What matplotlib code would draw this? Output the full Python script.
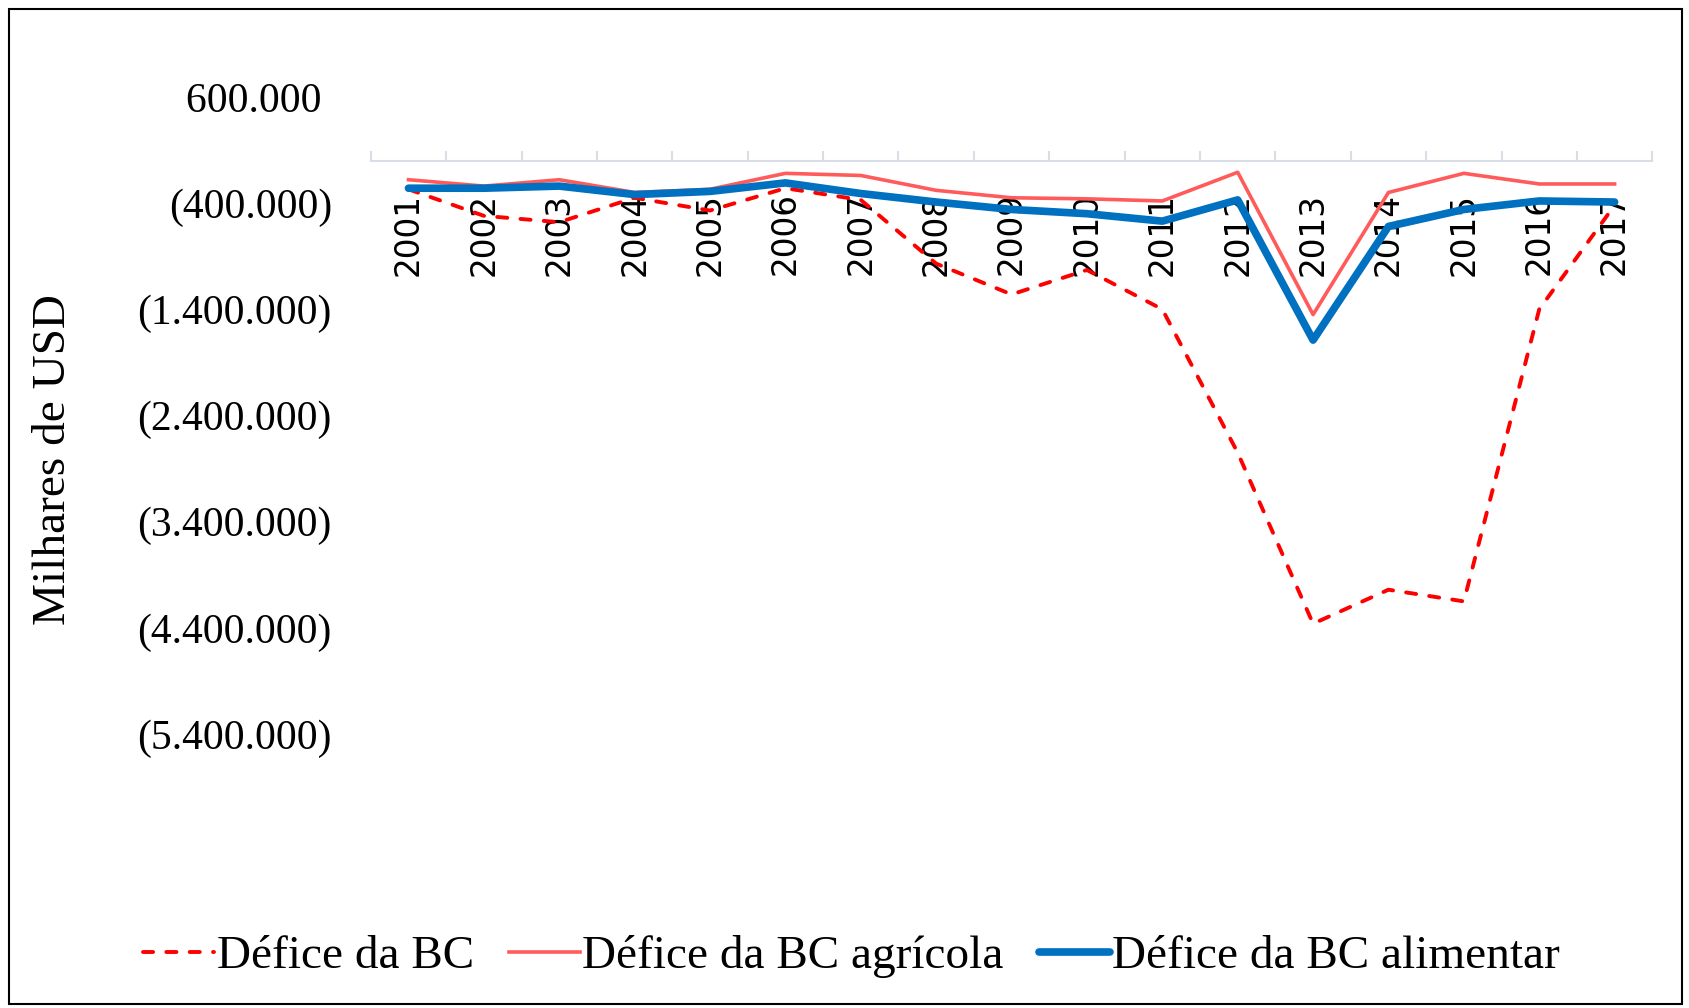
#!/usr/bin/env python3
"""Défice da balança comercial, 2001-2017 (milhares de USD)."""
import matplotlib
matplotlib.use('Agg')
import matplotlib.pyplot as plt
from matplotlib.patches import Rectangle
from matplotlib.ticker import FixedLocator, FuncFormatter

YEARS = [str(y) for y in range(2001, 2018)]

# values in thousands of USD
DEFICE_BC = [-270000, -520000, -580000, -350000, -470000, -260000, -370000,
             -970000, -1260000, -1030000, -1400000, -2750000, -4360000,
             -4040000, -4150000, -1400000, -420000]
DEFICE_AGRICOLA = [-180000, -240000, -180000, -300000, -270000, -120000, -140000,
                   -280000, -350000, -360000, -380000, -110000, -1450000,
                   -300000, -120000, -220000, -220000]
DEFICE_ALIMENTAR = [-260000, -260000, -240000, -320000, -290000, -210000, -310000,
                    -390000, -460000, -500000, -570000, -370000, -1690000,
                    -620000, -460000, -380000, -390000]

Y_TICKS = [600000, -400000, -1400000, -2400000, -3400000, -4400000, -5400000]

SERIF = ['Liberation Serif', 'DejaVu Serif']
AXIS_GRAY = '#D9DEE6'


def fmt_thousands(val, _pos):
    """Excel style: dots as thousands separator, negatives in brackets."""
    s = '{:,.0f}'.format(abs(val)).replace(',', '.')
    if val < 0:
        return '(' + s + ')'
    return s + ' '


fig = plt.figure(figsize=(16.9, 10.08), dpi=100)
ax = fig.add_axes([0.2194, 0.1663, 0.7583, 0.7376])

x = list(range(1, len(YEARS) + 1))
l1, = ax.plot(x, DEFICE_BC, color='#FF0000', lw=2.8, dashes=(2.6, 3.4),
              dash_capstyle='round', label='Défice da BC', zorder=3)
l2, = ax.plot(x, DEFICE_AGRICOLA, color='#FF5B5B', lw=2.6,
              label='Défice da BC agrícola', zorder=3)
l3, = ax.plot(x, DEFICE_ALIMENTAR, color='#0070C0', lw=5.5,
              solid_capstyle='round', label='Défice da BC alimentar', zorder=4)

ax.set_xlim(0.5, len(YEARS) + 0.5)
ax.set_ylim(-6400000, 600000)

for side in ['top', 'right', 'left']:
    ax.spines[side].set_visible(False)
ax.spines['bottom'].set_position(('data', 0))
ax.spines['bottom'].set_color(AXIS_GRAY)
ax.spines['bottom'].set_linewidth(1.5)

# boundary ticks pointing up, labels at category centres
ax.xaxis.set_major_locator(FixedLocator([i + 0.5 for i in range(len(YEARS) + 1)]))
ax.xaxis.set_major_formatter(FuncFormatter(lambda v, p: ''))
ax.xaxis.set_minor_locator(FixedLocator(x))
ax.set_xticklabels(YEARS, minor=True)
ax.tick_params(axis='x', which='major', direction='in', length=7,
               width=1.5, color=AXIS_GRAY)
ax.tick_params(axis='x', which='minor', length=0, pad=23, labelsize=23.5,
               labelrotation=90)
for lab in ax.get_xticklabels(minor=True):
    lab.set_family('DejaVu Sans')

ax.yaxis.set_major_locator(FixedLocator(Y_TICKS))
ax.yaxis.set_major_formatter(FuncFormatter(fmt_thousands))
ax.tick_params(axis='y', length=0, pad=28, labelsize=30)
for lab in ax.get_yticklabels():
    lab.set_family(SERIF)

ax.set_ylabel('Milhares de USD', family=SERIF, fontsize=34, labelpad=0)
ax.yaxis.set_label_coords(-0.231, 0.512)

fig.legend(handles=[l1, l2, l3], loc='center', bbox_to_anchor=(0.504, 0.051),
           ncol=3, frameon=False, handlelength=1.5, handletextpad=0.05,
           columnspacing=0.75, prop={'family': SERIF, 'size': 34})

# outer frame of the chart area
fig.patches.append(Rectangle((0.0055, 0.004), 0.9895, 0.987,
                             transform=fig.transFigure, fill=False,
                             edgecolor='black', lw=1.5))

fig.savefig('out.png', dpi=100)
